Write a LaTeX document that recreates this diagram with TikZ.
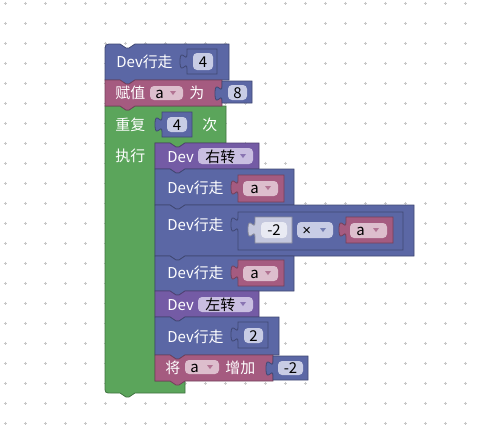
\documentclass[tikz,border=0pt]{standalone}
\usepackage{fontspec}
\setmainfont{Noto Sans CJK SC}
\newfontfamily\latinfont{Liberation Sans}
\definecolor{blkblue}{HTML}{5B67A5}
\definecolor{blkpink}{HTML}{A55B80}
\definecolor{blkgreen}{HTML}{5BA55B}
\definecolor{blkpurple}{HTML}{745BA5}
\definecolor{numgray}{HTML}{C5C8DE}
\definecolor{numwhite}{HTML}{E9EAF3}
\definecolor{fldblue}{HTML}{C8CCE5}
\definecolor{fldpink}{HTML}{DDBECD}
\definecolor{fldpurple}{HTML}{C9BEE1}
\begin{document}
\begin{tikzpicture}[x=0.75pt, y=-0.75pt, line width=0.6pt,
  gridmark/.style={draw=black!22, line width=0.5pt},
  lbl/.style={anchor=base west, inner sep=0pt, text=white, font=\fontsize{11.2}{13}\selectfont},
  fld/.style={anchor=base west, inner sep=0pt, text=black, font=\fontsize{11.2}{13}\selectfont},
  num/.style={anchor=base, inner sep=0pt, text=black, font=\fontsize{11.2}{13}\selectfont}]
\useasboundingbox[fill=white] (0,0) rectangle (478,440);
% workspace grid
\foreach \i in {0,...,23}{\foreach \j in {0,...,21}{\draw[gridmark] (5+20*\i-1.5,3+20*\j) -- ++(3,0) (5+20*\i,3+20*\j-1.5) -- ++(0,3);}}
% repeat block
\draw[fill=blkgreen, draw=blkgreen!70!black] (105,106) -- (120,106) -- ++(6,4) -- ++(3,0) -- ++(6,-4) -- (226,106) -- (226,143) -- (185,143) -- ++(-6,4) -- ++(-3,0) -- ++(-6,-4) -- (155,143) -- (155,381) -- (185,381) -- (185,393) -- (135,393) -- ++(-6,4) -- ++(-3,0) -- ++(-6,-4) -- (112,393) .. controls (105,393) .. (105,386) -- cycle;
% top stack
\draw[fill=blkblue, draw=blkblue!70!black] (105,80) -- (105,52) .. controls (105,44) .. (113,44) -- (120,44) -- ++(6,4) -- ++(3,0) -- ++(6,-4) -- (229,44) -- (229,80) -- (135,80) -- ++(-6,4) -- ++(-3,0) -- ++(-6,-4) -- cycle;
\draw[fill=blkpink, draw=blkpink!70!black] (105,80) -- (120,80) -- ++(6,4) -- ++(3,0) -- ++(6,-4) -- (222,80) -- (222,106) -- (135,106) -- ++(-6,4) -- ++(-3,0) -- ++(-6,-4) -- (105,106) -- cycle;
% statements inside the loop
\foreach \t/\r/\b/\c in {143/259/169/blkpurple, 169/294/205/blkblue, 205/414/256/blkblue, 256/294/291/blkblue, 291/259/317/blkpurple, 317/279/355/blkblue, 355/273/381/blkpink}
  \draw[fill=\c, draw=\c!70!black] (155,\t) -- (170,\t) -- ++(6,4) -- ++(3,0) -- ++(6,-4) -- (\r,\t) -- (\r,\b) -- (185,\b) -- ++(-6,4) -- ++(-3,0) -- ++(-6,-4) -- (155,\b) -- cycle;
% value blocks
\foreach \l/\t/\r/\b/\c in {187/49/217/74/blkblue, 222/81/252/103/blkblue, 162/112/192/137/blkblue, 238/175/284/202/blkpink, 238/212/403/250/blkblue, 255/217/292/243/numgray, 346/217/393/243/blkpink, 238/260/284/286/blkpink, 238/322/268/348/blkblue, 273/356/308/380/blkblue}
  \draw[fill=\c, draw=\c!70!black] (\l,\t) -- (\r,\t) -- (\r,\b) -- (\l,\b) -- (\l,\t+20) .. controls (\l,\t+10) and (\l-7,\t+28) .. (\l-7,\t+12.5) .. controls (\l-7,\t-3) and (\l,\t+15) .. (\l,\t+5) -- cycle;
% fields
\foreach \l/\t/\r/\b/\c in {193/53/213/70/fldblue, 150/86/183/100/fldpink, 228/85/247/100/fldblue, 167/117/187/132/fldblue, 198/148/253/164/fldpurple, 243/181/278/196/fldpink, 261/222/287/238/numwhite, 297/222/333/238/fldblue, 350/223/387/238/fldpink, 243/266/278/281/fldpink, 198/297/253/312/fldpurple, 244/328/263/343/fldblue, 185/360/219/374/fldpink, 278/361/303/375/fldblue}
  \fill[\c, rounded corners=3pt] (\l,\t) rectangle (\r,\b);
% dropdown arrows
\foreach \x/\y/\c in {173/93/blkpink, 243/156/blkpurple, 268/188/blkpink, 323/230/blkblue, 376/230/blkpink, 268/273/blkpink, 243/304/blkpurple, 210/367/blkpink}
  \fill[\c!85!white] (\x-3,\y-2) -- (\x+3,\y-2) -- (\x,\y+2) -- cycle;
% labels
\node[lbl] (walk1) at (116,67) {Dev行走};
\node[lbl] (assign) at (115,98) {赋值};
\node[lbl] (as) at (189,98) {为};
\node[lbl] (rep) at (115,130) {重复};
\node[lbl] (times) at (202,130) {次};
\node[lbl] (do) at (115,161) {执行};
\node[lbl] (turnr) at (167,162) {Dev};
\node[lbl] (walk2) at (167,193) {Dev行走};
\node[lbl] (walk3) at (167,230) {Dev行走};
\node[lbl] (walk4) at (167,278) {Dev行走};
\node[lbl] (turnl) at (167,310) {Dev};
\node[lbl] (walk5) at (167,342) {Dev行走};
\node[lbl] (chg) at (165,373) {将};
\node[lbl] (by) at (225,373) {增加};
% field texts
\node[num] (n4a) at (203,67) {4};
\node[fld] (vara) at (155,98) {a};
\node[num] (n8) at (237.5,98) {8};
\node[num] (n4b) at (177,130) {4};
\node[fld] (right) at (205,162) {右转};
\node[fld] (varb) at (250,193) {a};
\node[num] (nm2a) at (274,235) {-2};
\node[fld] (mul) at (302,235) {\latinfont ×};
\node[fld] (varc) at (356,235) {a};
\node[fld] (vard) at (250,278) {a};
\node[fld] (left) at (205,310) {左转};
\node[num] (n2) at (253.5,341) {2};
\node[fld] (vare) at (190,372) {a};
\node[num] (nm2b) at (290.5,373) {-2};
\end{tikzpicture}
\end{document}
